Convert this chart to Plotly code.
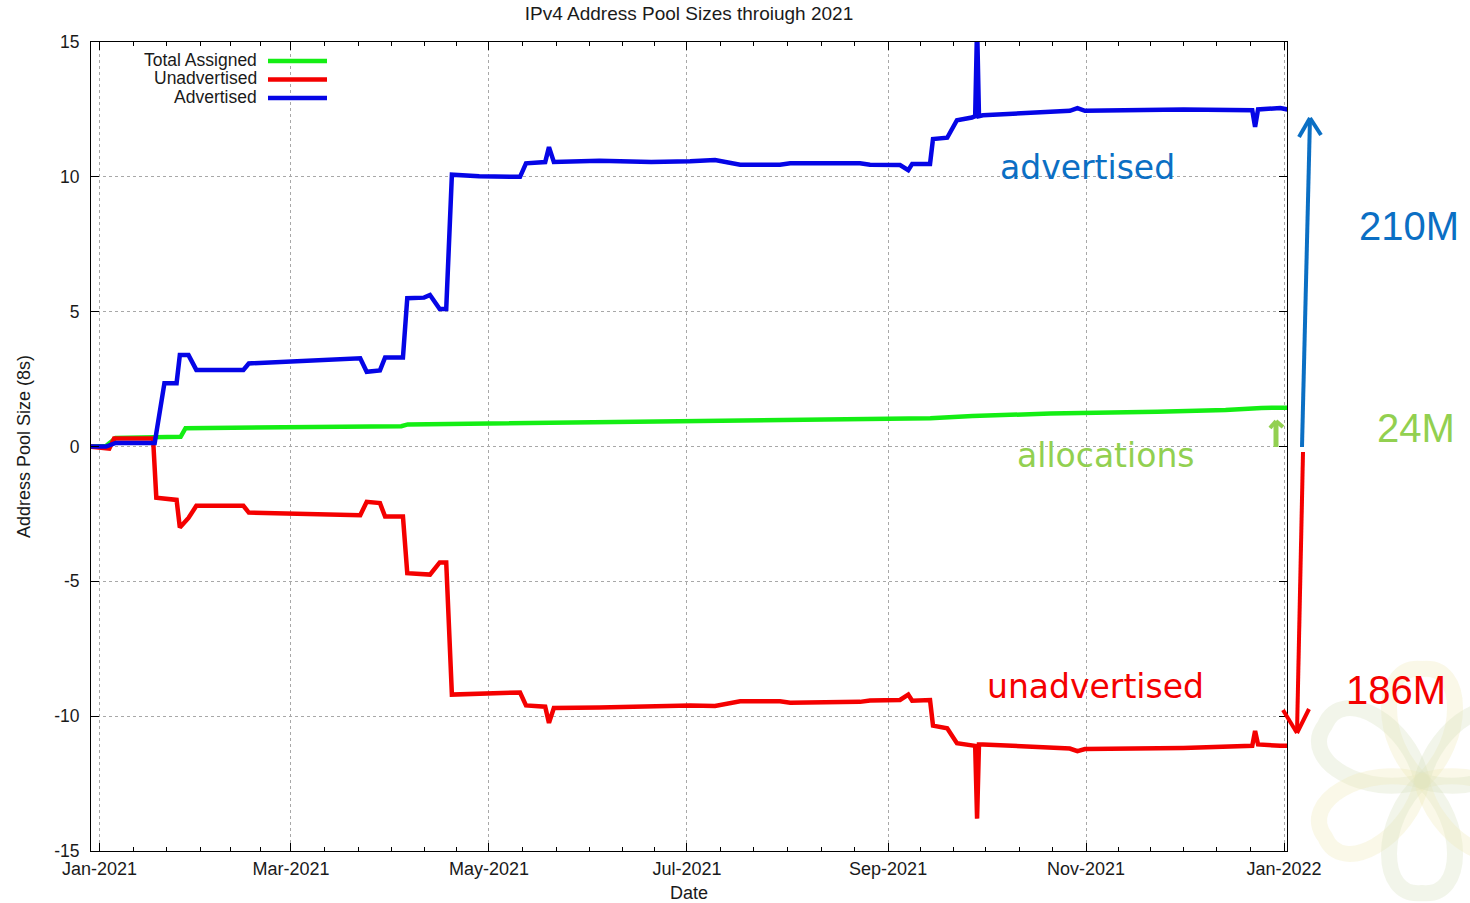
import plotly.graph_objects as go
import pandas as pd
import math

# ---------------- data ----------------
total_dates = ["2020-12-29", "2021-01-03", "2021-01-06", "2021-01-18", "2021-01-26",
               "2021-01-27 12:00", "2021-03-01", "2021-04-04", "2021-04-06", "2021-04-27",
               "2021-05-10", "2021-05-20", "2021-06-01", "2021-07-01", "2021-07-27",
               "2021-08-31", "2021-09-14", "2021-09-27", "2021-10-21", "2021-11-23",
               "2021-12-14", "2021-12-25", "2022-01-02"]
total_vals = [0.0, 0.02, 0.32, 0.33, 0.36,
              0.68, 0.72, 0.75, 0.82, 0.85,
              0.88, 0.90, 0.94, 0.97, 1.01,
              1.03, 1.05, 1.13, 1.22, 1.29,
              1.35, 1.43, 1.44]

adv_dates = ["2020-12-29", "2021-01-03", "2021-01-06", "2021-01-18", "2021-01-21",
             "2021-01-24 18:00", "2021-01-25 18:00", "2021-01-28 10:00", "2021-01-30 20:00", "2021-02-14 08:00",
             "2021-02-16", "2021-03-08", "2021-03-22 08:00", "2021-03-24 08:00", "2021-03-28 10:00",
             "2021-03-30", "2021-04-04 12:00", "2021-04-05 20:00", "2021-04-11", "2021-04-12 20:00",
             "2021-04-15 20:00", "2021-04-17 20:00", "2021-04-19 14:00", "2021-04-28", "2021-05-10 14:00",
             "2021-05-12 10:00", "2021-05-18 08:00", "2021-05-19 12:00", "2021-05-21", "2021-06-04",
             "2021-06-20", "2021-07-02", "2021-07-09 16:00", "2021-07-17 10:00", "2021-07-29 16:00",
             "2021-08-01 20:00", "2021-08-23 08:00", "2021-08-26 10:00", "2021-09-04 16:00", "2021-09-07 05:00",
             "2021-09-08 10:00", "2021-09-13 22:00", "2021-09-14 20:00", "2021-09-19 05:00", "2021-09-22 05:00",
             "2021-09-26 20:00", "2021-09-27 20:00", "2021-09-28 10:00", "2021-09-29 00:00", "2021-09-30 05:00",
             "2021-10-15 16:00", "2021-10-27", "2021-10-29 08:00", "2021-10-31 16:00", "2021-12-01",
             "2021-12-16 08:00", "2021-12-22 05:00", "2021-12-23 02:00", "2021-12-24", "2021-12-30 20:00",
             "2022-01-02"]
adv_vals = [0.0, 0.0, 0.13, 0.13, 2.35,
            2.35, 3.39, 3.39, 2.84, 2.84,
            3.08, 3.18, 3.27, 2.77, 2.82,
            3.30, 3.30, 5.50, 5.52, 5.62,
            5.10, 5.10, 10.08, 10.02, 10.0,
            10.50, 10.55, 11.10, 10.55, 10.60,
            10.55, 10.58, 10.62, 10.45, 10.45,
            10.50, 10.50, 10.45, 10.44, 10.25,
            10.48, 10.48, 11.40, 11.45, 12.10,
            12.20, 12.25, 15.60, 12.25, 12.28,
            12.40, 12.45, 12.55, 12.45, 12.50,
            12.47, 12.47, 11.85, 12.50, 12.55,
            12.50]

unadv_dates = ["2020-12-29", "2021-01-02", "2021-01-04", "2021-01-05 12:00", "2021-01-17 12:00",
               "2021-01-18 12:00", "2021-01-24 18:00", "2021-01-25 18:00", "2021-01-28 10:00", "2021-01-30 20:00",
               "2021-02-14 08:00", "2021-02-16", "2021-03-08", "2021-03-22 08:00", "2021-03-24 08:00",
               "2021-03-28 10:00", "2021-03-30", "2021-04-04 12:00", "2021-04-05 20:00", "2021-04-12 20:00",
               "2021-04-15 20:00", "2021-04-17 20:00", "2021-04-19 14:00", "2021-04-28", "2021-05-08",
               "2021-05-10 14:00", "2021-05-12 10:00", "2021-05-18 08:00", "2021-05-19 12:00", "2021-05-21",
               "2021-06-04", "2021-06-20", "2021-07-02", "2021-07-09 16:00", "2021-07-17 10:00",
               "2021-07-29 16:00", "2021-08-01 20:00", "2021-08-23 08:00", "2021-08-26 10:00", "2021-09-04 16:00",
               "2021-09-07 05:00", "2021-09-08 10:00", "2021-09-13 22:00", "2021-09-14 20:00", "2021-09-19 05:00",
               "2021-09-22 05:00", "2021-09-26 20:00", "2021-09-27 20:00", "2021-09-28 10:00", "2021-09-29 00:00",
               "2021-09-30 05:00", "2021-10-15 16:00", "2021-10-27", "2021-10-29 08:00", "2021-10-31 16:00",
               "2021-12-01", "2021-12-16 08:00", "2021-12-22 05:00", "2021-12-23 02:00", "2021-12-24",
               "2021-12-30 20:00", "2022-01-02"]
unadv_vals = [0.0, -0.08, -0.08, 0.30, 0.30,
              -1.90, -1.98, -3.00, -2.65, -2.20,
              -2.20, -2.45, -2.50, -2.55, -2.05,
              -2.10, -2.60, -2.60, -4.70, -4.75,
              -4.30, -4.30, -9.20, -9.18, -9.12,
              -9.12, -9.60, -9.65, -10.25, -9.70,
              -9.68, -9.62, -9.60, -9.62, -9.45,
              -9.45, -9.50, -9.47, -9.42, -9.40,
              -9.20, -9.43, -9.40, -10.35, -10.45,
              -11.00, -11.05, -11.10, -13.80, -11.05,
              -11.05, -11.15, -11.20, -11.30, -11.22,
              -11.18, -11.12, -11.10, -10.55, -11.05,
              -11.10, -11.10]

x_tick_vals = ["2021-01-01", "2021-03-01", "2021-05-01", "2021-07-01",
               "2021-09-01", "2021-11-01", "2022-01-01"]
x_tick_text = ["Jan-2021", "Mar-2021", "May-2021", "Jul-2021",
               "Sep-2021", "Nov-2021", "Jan-2022"]
y_tick_vals = [-15, -10, -5, 0, 5, 10, 15]
y_tick_text = ["-15", "-10", "-5", "0", "5", "10", "15"]

series_names = ["Total Assigned", "Unadvertised", "Advertised"]
series_colors = ["#14ee14", "#f40000", "#0505e6"]

# minor ticks: every third of a month, skipping major positions
minor_vals = []
for m in pd.date_range("2020-12-01", "2022-01-01", freq="MS"):
    nxt = m + pd.offsets.MonthBegin(1)
    span = nxt - m
    for k in (0, 1, 2):
        t = m + span * k / 3
        if k == 0 and t.strftime("%Y-%m-%d") in x_tick_vals:
            continue
        minor_vals.append(t.strftime("%Y-%m-%d %H:%M"))

# ---------------- figure ----------------
fig = go.Figure()
for name, xs, ys, col in [(series_names[0], total_dates, total_vals, series_colors[0]),
                          (series_names[1], unadv_dates, unadv_vals, series_colors[1]),
                          (series_names[2], adv_dates, adv_vals, series_colors[2])]:
    fig.add_trace(go.Scatter(x=xs, y=ys, mode="lines", name=name,
                             line=dict(color=col, width=4.5), showlegend=False))

L, R, T, B = 91, 1287, 42, 851
W_, H_ = R - L, B - T


def px(xp, yp):
    return (xp - L) / W_, (B - yp) / H_


shapes = []
annotations = []

# custom legend (text left, sample line right, as in gnuplot)
for i, (name, col) in enumerate(zip(series_names, series_colors)):
    yrow = 60 + i * 18.5
    tx, ty = px(259, yrow)
    annotations.append(dict(x=tx, y=ty, xref="paper", yref="paper", text=name,
                            showarrow=False, xanchor="right", yanchor="middle",
                            font=dict(size=17.5, color="#1a1a1a")))
    x0, y0 = px(268, yrow + 1)
    x1, _ = px(327, yrow + 1)
    shapes.append(dict(type="line", xref="paper", yref="paper", x0=x0, x1=x1, y0=y0, y1=y0,
                       line=dict(color=col, width=4.5)))

# hand-drawn style annotations
hand = [("advertised", 1087, 167, "#0b6fc4", "DejaVu Sans", 33),
        ("allocations", 1106, 455, "#92d050", "DejaVu Sans", 33),
        ("unadvertised", 1095, 686, "#f40000", "DejaVu Sans", 33),
        ("210M", 1409, 226, "#0b6fc4", "Liberation Sans", 40),
        ("24M", 1416, 428, "#92d050", "Liberation Sans", 40),
        ("186M", 1396, 690, "#f40000", "Liberation Sans", 40)]
for text, xp, yp, col, fam, size in hand:
    ax_, ay_ = px(xp, yp)
    annotations.append(dict(x=ax_, y=ay_, xref="paper", yref="paper", text=text, showarrow=False,
                            xanchor="center", yanchor="middle",
                            font=dict(family=fam, size=size, color=col)))


def seg(p0, p1, col, w):
    a, b = px(*p0)
    c, d = px(*p1)
    shapes.append(dict(type="line", xref="paper", yref="paper", x0=a, y0=b, x1=c, y1=d,
                       line=dict(color=col, width=w)))


# arrows
blue, red, green = "#0b6fc4", "#f40000", "#92d050"
seg((1302, 447), (1310, 118), blue, 4)
seg((1310, 118), (1299, 137), blue, 4)
seg((1310, 118), (1321, 135), blue, 4)
seg((1303, 452), (1297, 733), red, 4)
seg((1297, 733), (1283, 710), red, 4)
seg((1297, 733), (1309, 709), red, 4)
seg((1276, 447), (1276, 422), green, 5)
seg((1276, 421), (1270, 428), green, 4)
seg((1276, 421), (1283, 427), green, 4)

# faint watermark flower
cx, cy, PL, PW = 1422, 781, 112, 40
yel, grn = "rgba(240,234,185,0.32)", "rgba(215,224,190,0.32)"
petals = [(90, yel), (150, grn), (210, yel), (270, grn), (330, yel), (30, grn)]
for ang, col in petals:
    sdx = math.cos(math.radians(ang))
    sdy = -math.sin(math.radians(ang))
    pxv, pyv = -sdy, sdx

    def P(a, b):
        return px(cx + sdx * a + pxv * b, cy + sdy * a + pyv * b)

    pts = [P(0, 0), P(0.35 * PL, 1.1 * PW), P(1.05 * PL, 1.1 * PW), P(PL, 0),
           P(1.05 * PL, -1.1 * PW), P(0.35 * PL, -1.1 * PW), P(0, 0)]
    path = ("M {:.4f},{:.4f} C {:.4f},{:.4f} {:.4f},{:.4f} {:.4f},{:.4f} "
            "C {:.4f},{:.4f} {:.4f},{:.4f} {:.4f},{:.4f} Z").format(*[v for p in pts for v in p])
    shapes.append(dict(type="path", xref="paper", yref="paper", path=path,
                       line=dict(color=col, width=16), layer="below"))

axis_common = dict(ticks="inside", ticklen=8, tickcolor="black", tickwidth=1,
                   showline=True, linecolor="black", linewidth=1, mirror="ticks",
                   showgrid=True, gridcolor="#a8a8a8", griddash="dot", gridwidth=1,
                   zeroline=False)

fig.update_layout(
    width=1470, height=903,
    margin=dict(l=L, r=1470 - R, t=T, b=903 - B, autoexpand=False),
    paper_bgcolor="white", plot_bgcolor="white",
    font=dict(family="Liberation Sans, Arial, sans-serif", size=18, color="#1a1a1a"),
    title=dict(text="IPv4 Address Pool Sizes throiugh 2021", x=689 / 1470, xanchor="center",
               y=1 - 13 / 903, yanchor="middle", font=dict(size=19, color="#1a1a1a")),
    showlegend=False,
    shapes=shapes,
    annotations=annotations,
    xaxis=dict(type="date", range=["2020-12-29 09:00", "2022-01-01 22:00"],
               tickmode="array", tickvals=x_tick_vals, ticktext=x_tick_text,
               ticklabelstandoff=1, tickfont=dict(size=18, color="#1a1a1a"),
               title=dict(text="Date", standoff=8, font=dict(size=18)),
               minor=dict(tickmode="array", tickvals=minor_vals, ticks="inside", ticklen=4,
                          tickcolor="black", showgrid=False),
               **axis_common),
    yaxis=dict(range=[-15, 15], tickmode="array", tickvals=y_tick_vals, ticktext=y_tick_text,
               ticklabelstandoff=7, tickfont=dict(size=17.5, color="#1a1a1a"),
               title=dict(text="Address Pool Size (8s)", standoff=18, font=dict(size=18)),
               **axis_common),
)

fig.write_html("out.html", config={"displayModeBar": False},
               post_script="document.body.style.margin='0px';")
